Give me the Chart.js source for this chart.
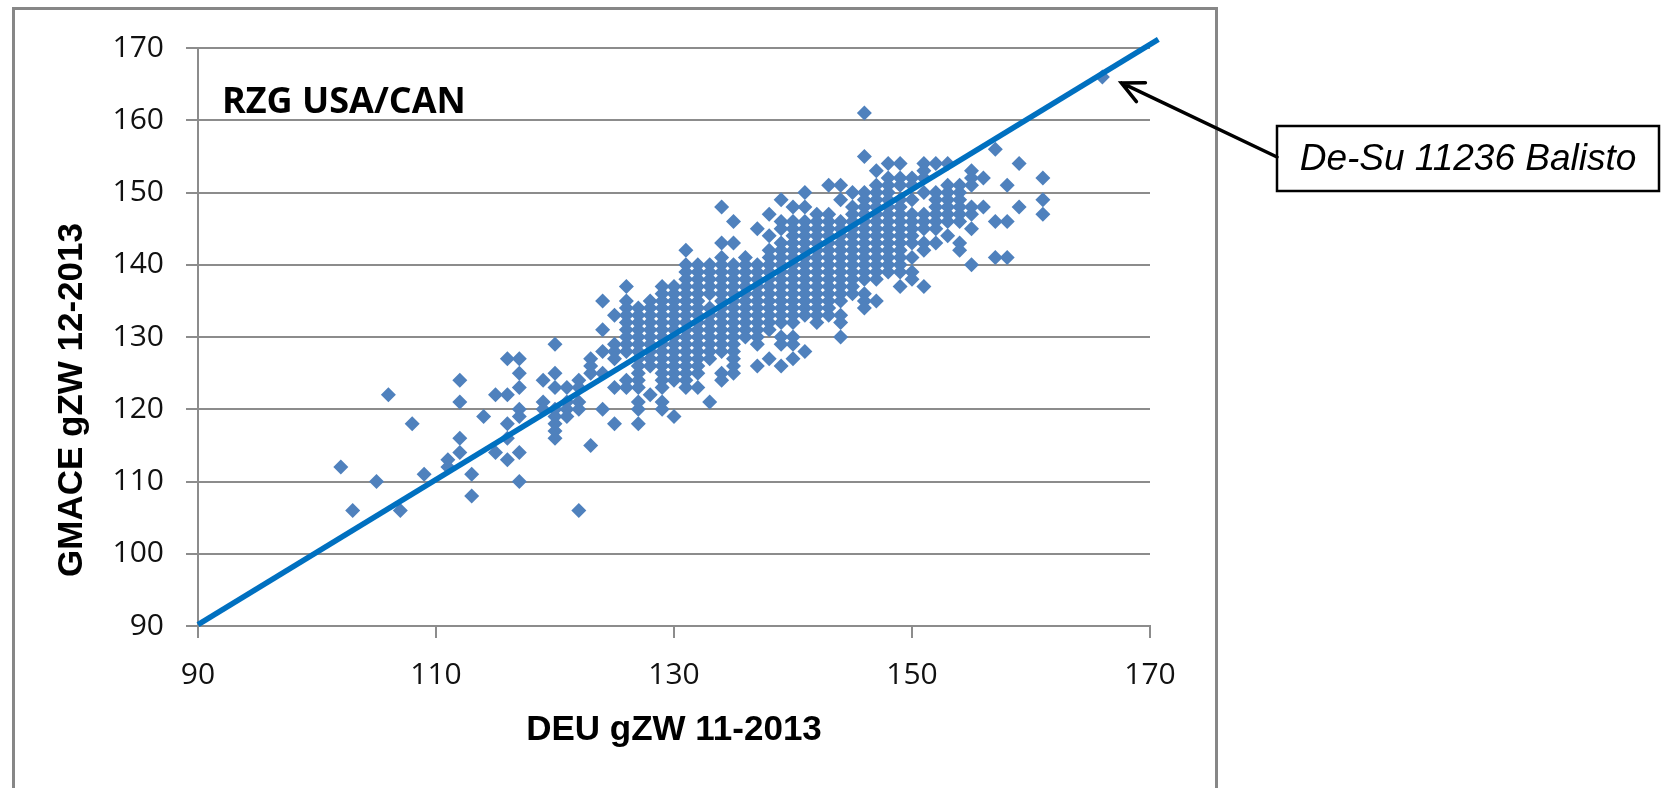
<!DOCTYPE html>
<html lang="de">
<head>
<meta charset="UTF-8">
<title>RZG USA/CAN - DEU gZW vs GMACE gZW</title>
<script src="https://cdn.jsdelivr.net/npm/chart.js"></script>
<style>
  html, body { margin: 0; padding: 0; background: #ffffff; }
  .chart-wrap { width: 1663px; height: 788px; position: relative; }
</style>
</head>
<body>
<div class="chart-wrap"><canvas id="rzgChart" width="1663" height="788"></canvas></div>
<script>
// DEU gZW 11-2013 values (x), one entry per column of points
const deuValues = [102, 103, 105, 106, 107, 108, 109, 111, 112, 113, 114, 115, 116, 117, 119, 120, 121, 122, 123, 124, 125,
  126, 127, 128, 129, 130, 131, 132, 133, 134, 135, 136, 137, 138, 139, 140, 141, 142, 143, 144, 145, 146, 147, 148, 149,
  150, 151, 152, 153, 154, 155, 156, 157, 158, 159, 161, 166];

// GMACE gZW 12-2013 values (y) for each DEU value above
const gmaceValues = [
  [112], [106], [110], [122], [106], [118], [111], [113, 112], [124, 121, 116, 114], [111, 108], [119], [122, 114],
  [127, 122, 118, 116, 113],
  [127, 125, 123, 120, 119, 114, 110],
  [124, 121, 120],
  [129, 125, 123, 120, 119, 118, 117, 116],
  [123, 121, 120, 119],
  [124, 123, 121, 120, 106],
  [127, 126, 125, 115],
  [135, 131, 128, 125, 120],
  [133, 129, 128, 127, 123, 118],
  [137, 135, 134, 133, 132, 131, 130, 129, 128, 124, 123],
  [134, 133, 132, 131, 130, 129, 128, 127, 126, 125, 124, 123, 121, 120, 118],
  [135, 134, 133, 132, 131, 130, 129, 128, 127, 126, 122],
  [137, 136, 135, 134, 133, 132, 131, 130, 129, 128, 127, 126, 125, 124, 123, 121, 120],
  [137, 136, 135, 134, 133, 132, 131, 130, 129, 128, 127, 126, 125, 124, 119],
  [142, 140, 139, 138, 137, 136, 135, 134, 133, 132, 131, 130, 129, 128, 127, 126, 125, 124, 123],
  [140, 139, 138, 137, 136, 135, 134, 133, 132, 131, 130, 129, 128, 127, 126, 125, 123],
  [140, 139, 138, 137, 136, 134, 133, 132, 131, 130, 129, 128, 127, 121],
  [148, 143, 141, 140, 139, 138, 137, 136, 135, 134, 133, 132, 131, 130, 129, 128, 125, 124],
  [146, 143, 140, 139, 138, 137, 136, 135, 134, 133, 132, 131, 130, 129, 128, 127, 126, 125],
  [141, 140, 139, 138, 137, 136, 135, 134, 133, 132, 131, 130],
  [145, 140, 139, 138, 137, 136, 135, 134, 133, 132, 131, 130, 129, 126],
  [147, 144, 142, 141, 140, 139, 138, 137, 136, 135, 134, 133, 132, 131, 127],
  [149, 146, 145, 143, 142, 141, 140, 139, 138, 137, 136, 135, 134, 133, 132, 130, 129, 126],
  [148, 146, 145, 144, 143, 142, 141, 140, 139, 138, 137, 136, 135, 134, 133, 132, 130, 129, 127],
  [150, 148, 146, 145, 144, 143, 142, 141, 140, 139, 138, 137, 136, 135, 134, 133, 128],
  [147, 146, 145, 144, 143, 142, 141, 140, 139, 138, 137, 136, 135, 134, 133, 132],
  [151, 147, 146, 145, 144, 143, 142, 141, 140, 139, 138, 137, 136, 135, 134, 133],
  [151, 149, 146, 145, 144, 143, 142, 141, 140, 139, 138, 137, 136, 135, 133, 132, 130],
  [150, 148, 147, 146, 145, 144, 143, 142, 141, 140, 139, 138, 137, 136],
  [161, 155, 150, 149, 148, 147, 146, 145, 144, 143, 142, 141, 140, 139, 138, 136, 135, 134],
  [153, 151, 150, 149, 148, 147, 146, 145, 144, 143, 142, 141, 140, 139, 138, 135],
  [154, 152, 151, 150, 149, 148, 147, 146, 145, 144, 143, 142, 141, 140, 139],
  [154, 152, 151, 149, 148, 147, 146, 145, 144, 143, 142, 141, 140, 139, 137],
  [152, 151, 149, 147, 146, 145, 144, 143, 141, 139, 138],
  [154, 153, 152, 150, 147, 146, 145, 143, 142, 137],
  [154, 150, 149, 148, 147, 146, 145, 143],
  [154, 151, 150, 149, 148, 147, 146, 144],
  [151, 150, 149, 148, 147, 146, 143, 142],
  [153, 152, 151, 148, 147, 145, 140],
  [152, 148],
  [156, 146, 141],
  [151, 146, 141],
  [154, 148],
  [152, 149, 147],
  [166]
];

// regression line end points
const trendDeu = [90, 170.7];
const trendGmace = [90.2, 171.2];

const highlightBull = { name: 'De-Su 11236 Balisto', deu: 166, gmace: 166 };
const groupLabel = 'RZG USA/CAN';
const xTitle = 'DEU gZW 11-2013';
const yTitle = 'GMACE gZW 12-2013';

const scatterPoints = [];
deuValues.forEach((d, i) => {
  gmaceValues[i].forEach(g => scatterPoints.push({ x: d, y: g }));
});
const trendPoints = trendDeu.map((d, i) => ({ x: d, y: trendGmace[i] }));

const gridGray = '#8c8c8c';

const decorPlugin = {
  id: 'decor',
  beforeDraw(chart) {
    const c = chart.ctx;
    c.save();
    c.fillStyle = '#ffffff';
    c.fillRect(0, 0, chart.width, chart.height);
    c.restore();
  },
  afterDraw(chart) {
    const c = chart.ctx;
    const xs = chart.scales.x, ys = chart.scales.y;
    c.save();

    // outer chart frame
    c.strokeStyle = '#878787';
    c.lineWidth = 3;
    c.strokeRect(13.5, 8.5, 1203, 800);

    // group label inside plot
    c.fillStyle = '#000';
    c.font = 'bold 36px "Open Sans"';
    c.textBaseline = 'alphabetic';
    c.textAlign = 'left';
    c.fillText(groupLabel, 222, 113);

    // axis titles
    c.font = 'bold 35px "Liberation Sans"';
    c.textAlign = 'center';
    c.textBaseline = 'middle';
    c.fillText(xTitle, (chart.chartArea.left + chart.chartArea.right) / 2, 730);
    c.save();
    c.translate(72, 400);
    c.rotate(-Math.PI / 2);
    c.fillText(yTitle, 0, 0);
    c.restore();

    // annotation box
    const bx = 1277, by = 126, bw = 382, bh = 65;
    c.fillStyle = '#fff';
    c.fillRect(bx, by, bw, bh);
    c.strokeStyle = '#000';
    c.lineWidth = 2.5;
    c.strokeRect(bx, by, bw, bh);
    c.fillStyle = '#000';
    c.font = 'italic 37px "Liberation Sans"';
    c.textAlign = 'center';
    c.textBaseline = 'middle';
    c.fillText(highlightBull.name, bx + bw / 2, by + bh / 2 + 1);

    // arrow to the highlighted bull
    const tx = xs.getPixelForValue(highlightBull.deu) + 19;
    const ty = ys.getPixelForValue(highlightBull.gmace) + 6;
    const sx = bx, sy = by + 31;
    const ang = Math.atan2(ty - sy, tx - sx);
    c.lineWidth = 3.5;
    c.lineCap = 'round';
    c.beginPath();
    c.moveTo(sx, sy);
    c.lineTo(tx, ty);
    const head = 24, spread = 0.45;
    c.moveTo(tx - head * Math.cos(ang - spread), ty - head * Math.sin(ang - spread));
    c.lineTo(tx, ty);
    c.lineTo(tx - head * Math.cos(ang + spread), ty - head * Math.sin(ang + spread));
    c.stroke();
    c.restore();
  }
};

new Chart(document.getElementById('rzgChart'), {
  type: 'scatter',
  data: {
    datasets: [
      {
        type: 'line',
        label: 'Regression',
        data: trendPoints,
        borderColor: '#0070c0',
        borderWidth: 5.5,
        pointRadius: 0,
        showLine: true,
        fill: false,
        clip: false,
        order: 0
      },
      {
        label: 'Bullen',
        data: scatterPoints,
        pointStyle: 'rectRot',
        pointRadius: 7.5,
        pointBorderWidth: 0,
        backgroundColor: '#4f81bd',
        borderColor: '#4f81bd',
        order: 1
      }
    ]
  },
  options: {
    responsive: false,
    animation: false,
    layout: { padding: { left: 0, top: 48, right: 513, bottom: 0 } },
    plugins: {
      legend: { display: false },
      tooltip: { enabled: false }
    },
    scales: {
      x: {
        type: 'linear',
        min: 90, max: 170,
        afterFit(s) { s.height = 162; },
        ticks: {
          stepSize: 20,
          padding: 19,
          color: '#111',
          font: { family: '"Open Sans"', size: 30 }
        },
        grid: { drawOnChartArea: false, tickLength: 12, color: gridGray, lineWidth: 2 },
        border: { display: true, color: gridGray, width: 2 }
      },
      y: {
        type: 'linear',
        min: 90, max: 170,
        afterFit(s) { s.width = 198; },
        ticks: {
          stepSize: 10,
          padding: 22,
          color: '#111',
          font: { family: '"Open Sans"', size: 30 }
        },
        grid: { tickLength: 12, color: gridGray, lineWidth: 2 },
        border: { display: true, color: gridGray, width: 2 }
      }
    }
  },
  plugins: [decorPlugin]
});
</script>
</body>
</html>
